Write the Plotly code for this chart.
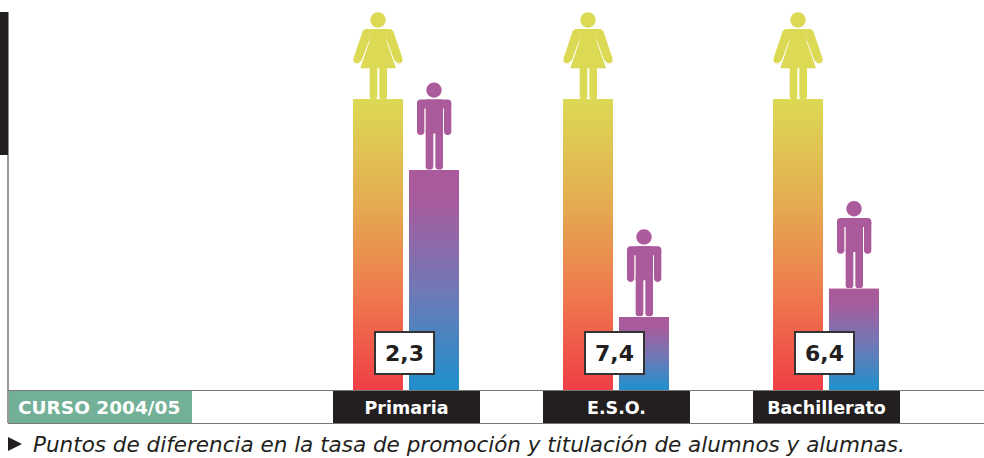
import plotly.graph_objects as go

# ---- data ----
categorias = ["Primaria", "E.S.O.", "Bachillerato"]
alumnas = [9.83, 9.83, 9.83]
alumnos = [7.43, 2.47, 3.42]
diferencias = [2.3, 7.4, 6.4]
curso = "CURSO 2004/05"
nota = "Puntos de diferencia en la tasa de promoción y titulación de alumnos y alumnas."

W, H = 984, 458
PLOT_H = 390
X0_PX, STEP_PX = 406.5, 210.0
PX_PER_UNIT = 29.6
xs = list(range(len(categorias)))
BAR_W = 50 / STEP_PX
OFF_F = -53.5 / STEP_PX
OFF_M = 2.5 / STEP_PX

C_F, C_M = "#DCD955", "#AB5A9B"
GRAD_F = [[0, "#F03E46"], [0.33, "#EE7A4E"], [0.66, "#E4AE50"], [1, "#DCD955"]]
GRAD_M = [[0, "#1E90CC"], [0.45, "#7079B6"], [0.85, "#A65C9D"], [1, "#AB5A9B"]]


def px(x):
    return x / W


def py(y):
    return (PLOT_H - y) / PLOT_H


def rrect(x0, y0, x1, y1, r):
    k = r * 0.55
    pts = (
        f"M{x0 + r},{y0} L{x1 - r},{y0} C{x1 - r + k},{y0} {x1},{y0 + r - k} {x1},{y0 + r} "
        f"L{x1},{y1 - r} C{x1},{y1 - r + k} {x1 - r + k},{y1} {x1 - r},{y1} "
        f"L{x0 + r},{y1} C{x0 + r - k},{y1} {x0},{y1 - r + k} {x0},{y1 - r} "
        f"L{x0},{y0 + r} C{x0},{y0 + r - k} {x0 + r - k},{y0} {x0 + r},{y0} Z"
    )
    return pts


def poly(points):
    return "M" + " L".join(f"{a},{b}" for a, b in points) + " Z"


# pictograms: pixel offsets from the top-centre of each bar
S = 1 / 3
WOMAN = [
    rrect(S * -23, S * 214, S * 23, S * 260, S * 23),
    poly([(S * a, S * b) for a, b in [(-27, 210), (27, 210), (26, 172), (54, 92), (-53, 92), (-26, 172)]]),
    poly([(S * a, S * b) for a, b in [(-38, 210), (-26, 210), (-26, 178), (-50, 113), (-73, 124), (-46, 203)]]),
    poly([(S * a, S * b) for a, b in [(38, 210), (26, 210), (26, 178), (50, 113), (73, 124), (46, 203)]]),
    rrect(S * -74, S * 107, S * -52, S * 129, S * 11),
    rrect(S * 52, S * 107, S * 74, S * 129, S * 11),
    rrect(S * -25, S * 0, S * -2, S * 100, S * 7),
    rrect(S * 4, S * 0, S * 27, S * 100, S * 7),
]
MAN = [
    rrect(S * -23, S * 217, S * 23, S * 263, S * 23),
    rrect(S * -51, S * 185, S * 52, S * 212, S * 10),
    rrect(S * -51, S * 105, S * -29, S * 205, S * 10),
    rrect(S * 30, S * 105, S * 52, S * 205, S * 10),
    rrect(S * -25, S * 110, S * 27, S * 212, S * 3),
    rrect(S * -25, S * 2, S * -2, S * 125, S * 8),
    rrect(S * 4, S * 2, S * 27, S * 125, S * 8),
]

fig = go.Figure()

fig.add_bar(x=xs, y=alumnas, width=BAR_W, offset=OFF_F, marker=dict(color=C_F, line_width=0), name="Alumnas")
fig.add_bar(x=xs, y=alumnos, width=BAR_W, offset=OFF_M, marker=dict(color=C_M, line_width=0), name="Alumnos")

for vals, off, grad in ((alumnas, OFF_F, GRAD_F), (alumnos, OFF_M, GRAD_M)):
    for x, v in zip(xs, vals):
        l, r = x + off, x + off + BAR_W
        fig.add_trace(go.Scatter(
            x=[l, l, r, r, l], y=[0, v, v, 0, 0], mode="lines", fill="toself",
            line=dict(width=0), fillgradient=dict(type="vertical", colorscale=grad),
            hoverinfo="skip", showlegend=False,
        ))

shapes = []
# frame and strips
shapes.append(dict(type="rect", xref="paper", yref="paper", x0=px(0), x1=px(8.5), y0=py(155), y1=py(12),
                   fillcolor="#231F20", line_width=0, layer="below"))
shapes.append(dict(type="line", xref="paper", yref="paper", x0=px(8), x1=px(8), y0=py(423), y1=py(155),
                   line=dict(color="#333333", width=1), layer="below"))
shapes.append(dict(type="rect", xref="paper", yref="paper", x0=px(9), x1=px(192), y0=py(423), y1=py(391),
                   fillcolor="#72B097", line_width=0, layer="below"))
for yy in (390.5, 423.5):
    shapes.append(dict(type="line", xref="paper", yref="paper", x0=px(8), x1=px(984), y0=py(yy), y1=py(yy),
                       line=dict(color="#777777", width=1.2), layer="below"))
for x in xs:
    shapes.append(dict(type="rect", xref="x", yref="paper", x0=x - 0.35, x1=x + 0.35, y0=py(423), y1=py(391),
                       fillcolor="#231F20", line_width=0, layer="below"))
# triangle of the caption
shapes.append(dict(type="path", xref="paper", yref="paper",
                   path=f"M{px(8)},{py(437)} L{px(22)},{py(444)} L{px(8)},{py(451)} Z",
                   fillcolor="#231F20", line_width=0))
# pictograms on top of the bars
for x, vf, vm in zip(xs, alumnas, alumnos):
    for parts, anchor_x, anchor_y, col in (
        (WOMAN, x + OFF_F + BAR_W / 2, vf, C_F),
        (MAN, x + OFF_M + BAR_W / 2, vm, C_M),
    ):
        for p in parts:
            shapes.append(dict(type="path", xref="x", yref="y", xsizemode="pixel", ysizemode="pixel",
                               xanchor=anchor_x, yanchor=anchor_y, path=p, fillcolor=col, line_width=0))

annotations = [
    dict(x=x - 2 / STEP_PX, y=(PLOT_H - 352.5) / PX_PER_UNIT, xref="x", yref="y",
         text=f"<b>{d:.1f}</b>".replace(".", ","),
         showarrow=False, width=57, height=40, bgcolor="#FFFFFF", bordercolor="#333333", borderwidth=2,
         borderpad=0, xanchor="center", yanchor="middle", valign="middle",
         font=dict(family="DejaVu Sans", size=22, color="#231F20"))
    for x, d in zip(xs, diferencias)
]
annotations.append(dict(x=px(98.5), y=py(407.5), xref="paper", yref="paper", text=f"<b>{curso}</b>", showarrow=False,
                        font=dict(family="DejaVu Sans", size=18.5, color="#FFFFFF"), xanchor="center", yanchor="middle"))
annotations.append(dict(x=px(31), y=py(444.5), xref="paper", yref="paper", text=f"<i>{nota}</i>", showarrow=False,
                        font=dict(family="DejaVu Sans", size=21.5, color="#231F20"), xanchor="left", yanchor="middle"))

fig.update_layout(
    width=W, height=H, margin=dict(l=0, r=0, t=0, b=H - PLOT_H, pad=0),
    paper_bgcolor="#FFFFFF", plot_bgcolor="#FFFFFF", showlegend=False,
    shapes=shapes, annotations=annotations,
    xaxis=dict(range=[(0 - X0_PX) / STEP_PX, (W - X0_PX) / STEP_PX], tickmode="array", tickvals=xs,
               ticktext=categorias, showgrid=False, zeroline=False, showline=False, ticks="outside", ticklen=2,
               tickcolor="rgba(0,0,0,0)", tickfont=dict(family="DejaVu Sans", size=17.5, color="#FFFFFF", weight=700),
               automargin=False, fixedrange=True),
    yaxis=dict(range=[0, PLOT_H / PX_PER_UNIT], visible=False, fixedrange=True),
)
fig.write_html("out.html", config={"displayModeBar": False},
               post_script="document.body.style.margin='0';document.documentElement.style.overflow='hidden';")
